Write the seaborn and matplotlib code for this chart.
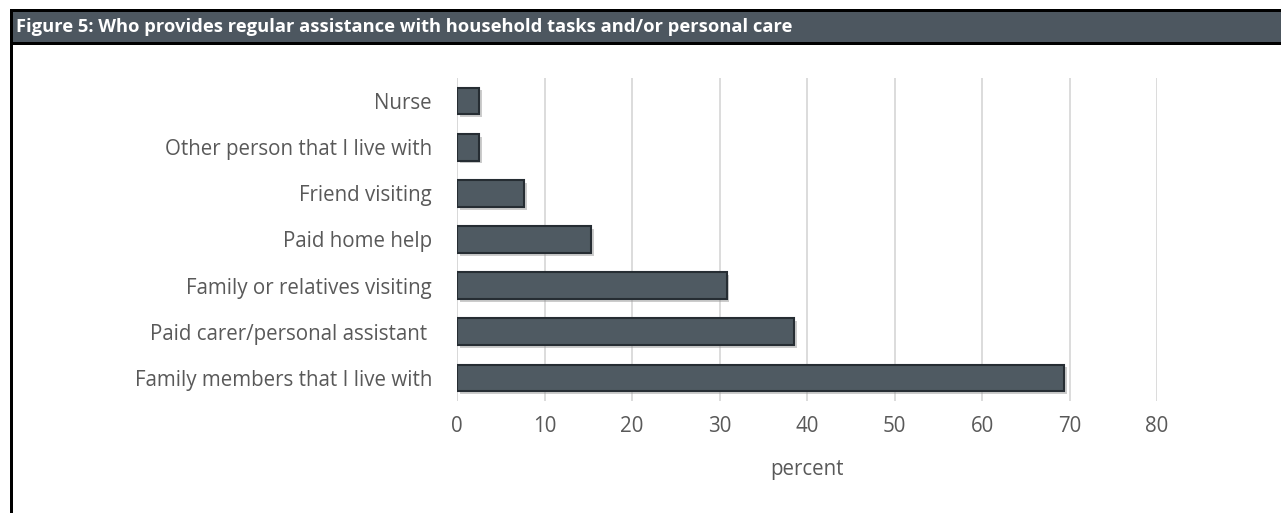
import matplotlib
matplotlib.use("Agg")
import matplotlib.pyplot as plt
import matplotlib.patheffects as pe
from matplotlib.patches import Rectangle
import seaborn as sns
import pandas as pd

categories = [
    "Nurse",
    "Other person that I live with",
    "Friend visiting",
    "Paid home help",
    "Family or relatives visiting",
    "Paid carer/personal assistant ",
    "Family members that I live with",
]
percent = [2.5, 2.5, 7.7, 15.3, 30.8, 38.5, 69.4]
x_ticks = [0, 10, 20, 30, 40, 50, 60, 70, 80]

title = "Figure 5: Who provides regular assistance with household tasks and/or personal care"

df = pd.DataFrame({"who": categories, "percent": percent})

sns.set_style("white")
plt.rcParams["font.family"] = ["Open Sans", "DejaVu Sans"]

W, H = 1281, 513
fig = plt.figure(figsize=(W / 100, H / 100), dpi=100)
fig.patch.set_facecolor("white")

# frame and title banner
fig.patches.append(Rectangle((10 / W, 1 - 45 / H), 1 - 10 / W, 36 / H,
                             transform=fig.transFigure, facecolor="black",
                             edgecolor="none", zorder=0))
fig.patches.append(Rectangle((13 / W, 1 - 42 / H), 1 - 13 / W, 30 / H,
                             transform=fig.transFigure, facecolor="#4d5760",
                             edgecolor="none", zorder=1))
fig.patches.append(Rectangle((10 / W, 0), 3 / W, 1 - 10 / H,
                             transform=fig.transFigure, facecolor="black",
                             edgecolor="none", zorder=1))
fig.text(16 / W, 1 - 27 / H, title, color="white", fontsize=13.2,
         fontweight="bold", va="center", ha="left")

ax = fig.add_axes([457 / W, 1 - 401 / H, 700 / W, 323 / H])
sns.barplot(data=df, x="percent", y="who", orient="h", color="#4f5a62",
            width=0.58, ax=ax, edgecolor="#262d33", linewidth=1.5,
            saturation=1)
for bar in ax.patches:
    bar.set_path_effects([pe.SimplePatchShadow(offset=(2, -2), shadow_rgbFace="#9a9a9a", alpha=0.5),
                          pe.Normal()])
    bar.set_zorder(3)

ax.set_xlim(0, 80)
ax.set_xticks(x_ticks)
ax.xaxis.grid(True, color="#d9d9d9", linewidth=1.3)
ax.set_axisbelow(True)
for s in ax.spines.values():
    s.set_visible(False)
ax.axvline(0, color="#d9d9d9", linewidth=1.3, zorder=1)
ax.tick_params(axis="both", length=0, labelsize=14.8, labelcolor="#595959")
ax.tick_params(axis="x", pad=11)
ax.tick_params(axis="y", pad=18)
ax.set_ylabel("")
ax.set_xlabel("percent", fontsize=14.8, color="#595959", labelpad=16)

fig.savefig("out.png", dpi=100)
